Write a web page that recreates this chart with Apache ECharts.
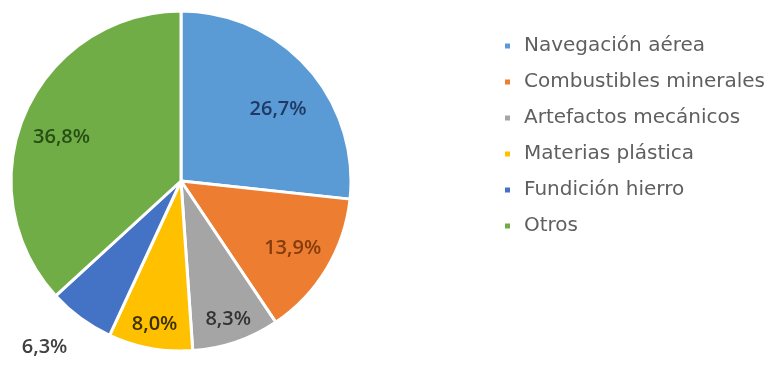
<!DOCTYPE html>
<html>
<head>
<meta charset="utf-8">
<script src="https://cdn.jsdelivr.net/npm/echarts@6/dist/echarts.min.js"></script>
<style>
  html, body { margin: 0; padding: 0; background: #fff; }
  #chart { width: 783px; height: 371px; }
</style>
</head>
<body>
<div id="chart"></div>
<script>
// categories + shares (%)
const categories = ['Navegación aérea', 'Combustibles minerales', 'Artefactos mecánicos', 'Materias plástica', 'Fundición hierro', 'Otros']
const shares = [26.7, 13.9, 8.3, 8.0, 6.3, 36.8]

const sliceColors = ['#5B9BD5', '#ED7D31', '#A5A5A5', '#FFC000', '#4472C4', '#70AD47']
const labelColors = ['#1F3864', '#843C0C', '#333333', '#3d3000', '#404040', '#274E13']

// which ring each inside label sits on (0 = middle, 1 = nearer the rim, -1 = outside)
const labelRing = [0, 0, 1, 1, -1, 0]
// small nudges so labels sit where excel put them
const labelNudge = [[0, 16], [0, 0], [0, 0], [0, 0], [0, 0], [0, 9]]

const fmt = v => v.toFixed(1).replace('.', ',') + '%'
const center = [181, 181]
const R = 170

const chart = echarts.init(document.getElementById('chart'))

const mainData = categories.map((name, i) => {
  const item = {
    name: name,
    value: shares[i],
    itemStyle: { color: sliceColors[i] },
    label: { show: false }
  }
  if (labelRing[i] === -1) {
    item.label = {
      show: true,
      position: 'outside',
      formatter: p => fmt(p.value),
      color: labelColors[i],
      fontSize: 20,
      fontWeight: 600,
      fontFamily: 'Open Sans',
      distanceToLabelLine: -8
    }
    item.labelLine = { show: false, length: 36, length2: 0 }
  }
  return item
})

// transparent rings only used to place the inside labels further out
function labelSeries(ring, inner) {
  return {
    type: 'pie',
    center: center,
    radius: [R * inner, R],
    startAngle: 90,
    silent: true,
    label: {
      position: 'inside',
      formatter: p => fmt(p.value),
      fontSize: 20,
      fontWeight: 600,
      fontFamily: 'Open Sans'
    },
    labelLine: { show: false },
    data: shares.map((v, i) => ({
      value: v,
      itemStyle: { color: 'rgba(0,0,0,0)' },
      label: {
        show: labelRing[i] === ring,
        color: labelColors[i],
        offset: labelNudge[i]
      }
    }))
  }
}

chart.setOption({
  animation: false,
  legend: {
    orient: 'vertical',
    left: 498,
    top: 30,
    data: categories,
    icon: 'rect',
    itemWidth: 7,
    itemHeight: 7,
    itemGap: 14,
    textStyle: {
      fontSize: 20,
      lineHeight: 22,
      color: '#5f5f5f',
      fontFamily: 'DejaVu Sans',
      padding: [0, 0, 0, 8]
    }
  },
  series: [
    {
      type: 'pie',
      center: center,
      radius: [0, R],
      startAngle: 90,
      clockwise: true,
      itemStyle: { borderColor: '#fff', borderWidth: 3 },
      emphasis: { disabled: true },
      data: mainData
    },
    labelSeries(0, 0.5),
    labelSeries(1, 0.68)
  ]
})
</script>
</body>
</html>
